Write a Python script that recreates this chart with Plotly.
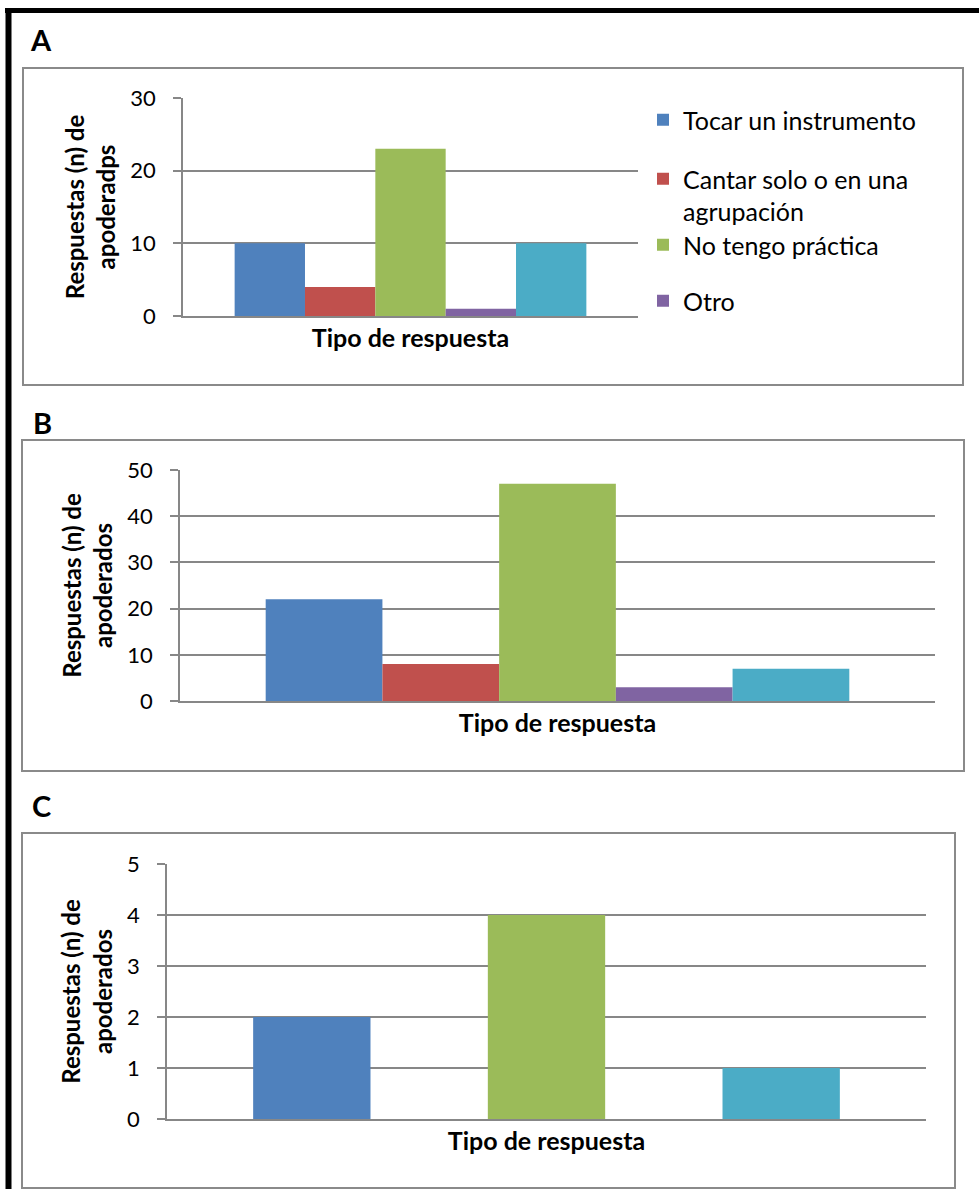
import plotly.graph_objects as go

W, H = 979, 1189

categorias = ["Tocar un instrumento", "Cantar solo o en una<br>agrupación",
              "No tengo práctica", "Otro", "Otra respuesta"]
colores = ["#4F81BD", "#C0504D", "#9BBB59", "#8064A2", "#4BACC6"]
categoria_x = ["Tipo de respuesta"]

valores_A = [10, 4, 23, 1, 10]
valores_B = [22, 8, 47, 3, 7]
valores_C = [2, 0, 4, 0, 1]

FONT = "Lato, Carlito, Calibri, sans-serif"
GRID = "#878787"

def px_x(v):
    return v / W

def px_y(v):
    return 1 - v / H

fig = go.Figure()

paneles = [
    ("A", valores_A, "x", "y", True),
    ("B", valores_B, "x2", "y2", False),
    ("C", valores_C, "x3", "y3", False),
]
legend_ids = ["legend", "legend2", "legend3", "legend4", None]

for letra, vals, xa, ya, leg in paneles:
    for i, v in enumerate(vals):
        show = leg and legend_ids[i] is not None
        kw = dict(legend=legend_ids[i]) if show else {}
        fig.add_trace(go.Bar(
            x=categoria_x, y=[v], name=categorias[i],
            marker=dict(color=colores[i], line=dict(width=0)),
            xaxis=xa, yaxis=ya, showlegend=show, **kw))

dom = {
    "A": ((183, 638), (98, 316), [0, 30], 10, "Respuestas (n) de<br>apoderadps"),
    "B": ((180, 935), (470, 701), [0, 50], 10, "Respuestas (n) de<br>apoderados"),
    "C": ((167, 926), (864, 1119), [0, 5], 1, "Respuestas (n) de<br>apoderados"),
}
names = {"A": ("xaxis", "yaxis"), "B": ("xaxis2", "yaxis2"), "C": ("xaxis3", "yaxis3")}
anchors = {"A": ("y", "x"), "B": ("y2", "x2"), "C": ("y3", "x3")}

lay = {}
for k, ((x0, x1), (y0, y1), rng, dt, ttl) in dom.items():
    xn, yn = names[k]
    xa_anchor, ya_anchor = anchors[k]
    lay[xn] = dict(domain=[px_x(x0), px_x(x1)], anchor=xa_anchor,
                   showticklabels=False, ticks="", showgrid=False,
                   showline=True, linecolor=GRID, linewidth=1.5,
                   title=dict(text="<b>Tipo de respuesta</b>",
                              font=dict(family=FONT, size=25, color="#000"),
                              standoff=13),
                   automargin=False, fixedrange=True)
    lay[yn] = dict(domain=[px_y(y1), px_y(y0)], anchor=ya_anchor,
                   range=rng, dtick=dt, tick0=0, showgrid=True,
                   gridcolor=GRID, gridwidth=1.5, zeroline=False,
                   showline=True, linecolor=GRID, linewidth=1.5,
                   ticks="outside", ticklen=8, tickcolor=GRID, tickwidth=1.5,
                   ticklabelstandoff=13,
                   tickfont=dict(family=FONT, size=22, color="#000"),
                   title=dict(text="<b>" + ttl.replace("<br>", "</b><br><b>") + "</b>",
                              font=dict(family=FONT, size=24, color="#000"),
                              standoff=8),
                   automargin=False, fixedrange=True)

shapes = []
for (x0, y0, x1, y1) in [(23, 68, 963, 385), (22, 440, 964, 771), (22, 833, 955, 1188)]:
    shapes.append(dict(type="rect", xref="paper", yref="paper",
                       x0=px_x(x0), x1=px_x(x1), y0=px_y(y0), y1=px_y(y1),
                       line=dict(color="#8a8a8a", width=2), fillcolor="rgba(0,0,0,0)"))
shapes.append(dict(type="line", xref="paper", yref="paper",
                   x0=px_x(5), x1=1, y0=px_y(10.5), y1=px_y(10.5),
                   line=dict(color="#000", width=5)))
shapes.append(dict(type="line", xref="paper", yref="paper",
                   x0=px_x(8.5), x1=px_x(8.5), y0=px_y(8), y1=0,
                   line=dict(color="#000", width=6)))

annotations = []
for letra, cx, cy in [("A", 41, 40), ("B", 42, 422), ("C", 41, 805)]:
    annotations.append(dict(text="<b>" + letra + "</b>", xref="paper", yref="paper",
                            x=px_x(cx), y=px_y(cy), xanchor="center", yanchor="middle",
                            showarrow=False, font=dict(family=FONT, size=29, color="#000")))

legfont = dict(family=FONT, size=25, color="#000")
def legend_at(y, yanchor="middle"):
    return dict(x=px_x(643), y=px_y(y), xanchor="left", yanchor=yanchor,
                bgcolor="rgba(0,0,0,0)", borderwidth=0, font=legfont,
                valign="top", itemclick=False, itemdoubleclick=False,
                itemwidth=30)

fig.update_layout(
    width=W, height=H, autosize=False,
    margin=dict(l=0, r=0, t=0, b=0),
    paper_bgcolor="#fff", plot_bgcolor="#fff",
    barmode="group", bargap=0.227, bargroupgap=0,
    font=dict(family=FONT, color="#000"),
    shapes=shapes, annotations=annotations,
    legend=legend_at(120),
    legend2=legend_at(156, "top"),
    legend3=legend_at(245),
    legend4=legend_at(301),
    **lay,
)

fig.write_html("out.html")
